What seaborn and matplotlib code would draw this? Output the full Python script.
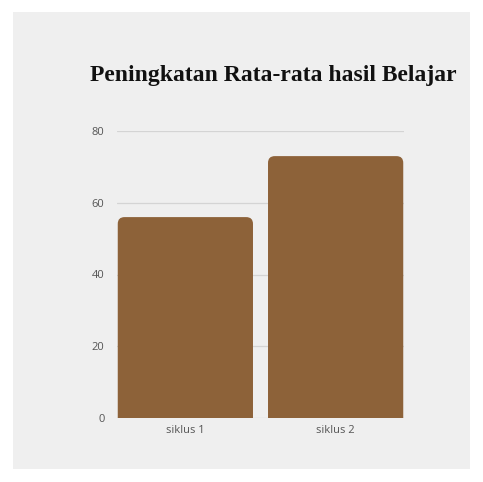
import matplotlib
matplotlib.use("Agg")
import matplotlib.pyplot as plt
import seaborn as sns
import pandas as pd
from matplotlib.patches import FancyBboxPatch, Rectangle

categories = ["siklus 1", "siklus 2"]
values = [56, 73]
yticks = [0, 20, 40, 60, 80]
title = "Peningkatan Rata-rata hasil Belajar"

bar_color = "#8D6239"
bg = "#EFEFEF"

sns.set_theme(style="white")
plt.rcParams['font.family'] = ['Open Sans', 'DejaVu Sans']

fig = plt.figure(figsize=(4.83, 4.82), dpi=100)
fig.patch.set_facecolor("white")
fig.patches.append(Rectangle((13/483, 1-469/482), 457/483, 457/482,
                             transform=fig.transFigure, facecolor=bg,
                             edgecolor="none", zorder=-5))

ax = fig.add_axes([117/483, 1-418/482, 287/483, 287/482])
ax.set_facecolor("none")
ax.set_zorder(2)
df = pd.DataFrame({"cat": categories, "val": values})
sns.barplot(data=df, x="cat", y="val", color=bar_color, width=0.9,
            saturation=1, ax=ax, zorder=3)

ax.set_xlim(-0.455, 1.455)
ax.set_ylim(0, 80)
ax.set_yticks(yticks)
ax.set_yticklabels([str(v) for v in yticks])

# replace bars with rounded versions
px_x = 287 / (1.455 + 0.455)
px_y = 287 / 80
aspect = px_x / px_y
r = 0.045
for p in list(ax.patches):
    x0, w, h = p.get_x(), p.get_width(), p.get_height()
    fb = FancyBboxPatch((x0, -3), w, h + 3,
                        boxstyle=f"round,pad=0,rounding_size={r}",
                        mutation_aspect=aspect,
                        facecolor=bar_color, edgecolor="none", zorder=3,
                        clip_on=True)
    p.remove()
    ax.add_patch(fb)
    fb.set_clip_path(ax.patch)

ax.grid(axis="y", color="#D4D4D4", linewidth=0.9, zorder=0)
ax.set_axisbelow(True)
for s in ax.spines.values():
    s.set_visible(False)
ax.tick_params(axis="both", length=0, labelsize=8, labelcolor="#555555")
ax.tick_params(axis="y", pad=9)
ax.tick_params(axis="x", pad=5)
ax.set_xlabel("")
ax.set_ylabel("")

fig.text(90/483, 1-75/482, title, fontsize=17, fontweight="bold",
         color="#111111", ha="left", va="center",
         family=['Liberation Serif', 'DejaVu Serif'], zorder=5)

fig.savefig("out.png", dpi=100, facecolor="white")
